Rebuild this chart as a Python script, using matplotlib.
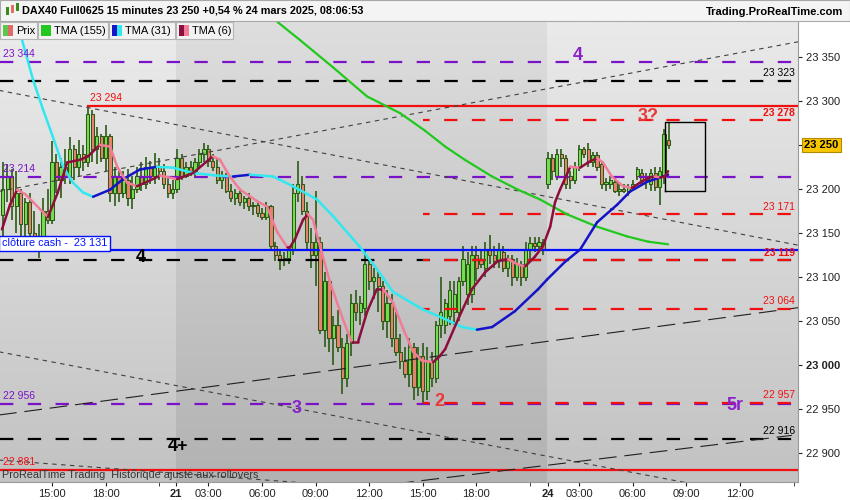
import numpy as np
import matplotlib.pyplot as plt
from matplotlib.collections import LineCollection
from matplotlib.patches import Rectangle

plt.rcParams['font.family'] = ['Liberation Sans', 'DejaVu Sans']

# 15 min bars, index 0 = 20/03 12:15 (night hours and week-end removed)
opens = [23170, 23200, 23215, 23180, 23195, 23160, 23185, 23150, 23140, 23145,
         23175, 23165, 23230, 23210, 23225, 23215, 23245, 23225, 23240, 23230,
         23285, 23245, 23260, 23235, 23260, 23195, 23215, 23195, 23210, 23190,
         23200, 23215, 23205, 23225, 23215, 23225, 23220, 23205, 23195,
         23200, 23235, 23215, 23225, 23220, 23230, 23240, 23245, 23232, 23225,
         23210, 23215, 23198, 23190, 23195, 23185, 23190, 23180, 23182, 23172,
         23168, 23180, 23135, 23125, 23120, 23122, 23130, 23195, 23205, 23175,
         23140, 23125, 23140, 23040, 23095, 23030, 23045, 23020, 22985, 23025,
         23070, 23060, 23065, 23115, 23095, 23100, 23090, 23050, 23070, 23030,
         23015, 23005, 22990, 23020, 22975, 23010, 22970, 23005, 22985, 23045,
         23045, 23055, 23060, 23060, 23095, 23080, 23080, 23125, 23120, 23110,
         23130, 23125, 23118, 23128, 23110, 23120, 23100, 23115, 23100, 23130,
         23138, 23135, 23140,
         23205, 23235, 23215, 23240, 23235, 23215, 23210, 23225, 23245, 23245,
         23230, 23238, 23228, 23205, 23205, 23208, 23198, 23200, 23198, 23202,
         23215, 23218, 23210, 23205, 23218, 23202, 23215, 23256]
highs = [23230, 23228, 23222, 23220, 23200, 23190, 23195, 23175, 23160, 23190,
         23200, 23254, 23240, 23235, 23245, 23259, 23250, 23255, 23250, 23294,
         23290, 23270, 23262, 23273, 23262, 23225, 23220, 23220, 23222, 23215,
         23225, 23230, 23236, 23232, 23241, 23235, 23228, 23212, 23210,
         23245, 23240, 23230, 23232, 23235, 23245, 23252, 23250, 23240, 23235,
         23220, 23218, 23205, 23200, 23198, 23192, 23195, 23185, 23185, 23178,
         23185, 23182, 23140, 23132, 23128, 23135, 23205, 23232, 23215, 23185,
         23155, 23197, 23145, 23105, 23100, 23055, 23062, 23030, 23035, 23080,
         23085, 23078, 23132, 23120, 23110, 23108, 23095, 23085, 23080, 23060,
         23035, 23020, 23030, 23025, 23020, 23025, 23020, 23015, 23050, 23100,
         23075, 23095, 23095, 23100, 23135, 23128, 23135, 23135, 23130, 23140,
         23148, 23135, 23138, 23135, 23125, 23125, 23122, 23118, 23140, 23145,
         23145, 23145, 23143,
         23242, 23240, 23245, 23245, 23238, 23220, 23230, 23250, 23248, 23252,
         23242, 23242, 23232, 23212, 23215, 23212, 23205, 23205, 23205, 23210,
         23225, 23222, 23218, 23222, 23225, 23225, 23268, 23276]
lows = [23140, 23185, 23165, 23150, 23145, 23140, 23135, 23135, 23122, 23130,
        23160, 23160, 23195, 23190, 23205, 23205, 23210, 23215, 23220, 23225,
        23230, 23228, 23230, 23220, 23185, 23180, 23185, 23190, 23180, 23177,
        23195, 23198, 23200, 23205, 23205, 23210, 23200, 23190, 23188,
        23195, 23210, 23212, 23215, 23212, 23222, 23230, 23225, 23220, 23205,
        23200, 23195, 23185, 23182, 23180, 23177, 23175, 23170, 23168, 23165,
        23165, 23130, 23118, 23108, 23112, 23115, 23125, 23185, 23170, 23130,
        23110, 23090, 23035, 23020, 23015, 23000, 23015, 22967, 22975, 23010,
        23050, 23045, 23055, 23085, 23075, 23060, 23040, 23030, 23020, 23010,
        22995, 22985, 22975, 22960, 22965, 22957, 22960, 22975, 22980, 23030,
        23035, 23045, 23045, 23050, 23090, 23068, 23070, 23095, 23110, 23100,
        23115, 23110, 23110, 23105, 23100, 23090, 23095, 23090, 23095, 23120,
        23128, 23128, 23125,
        23200, 23210, 23210, 23225, 23200, 23200, 23205, 23220, 23235, 23225,
        23225, 23220, 23200, 23198, 23200, 23195, 23192, 23195, 23192, 23198,
        23210, 23205, 23200, 23198, 23198, 23182, 23205, 23245]
closes = [23200, 23215, 23180, 23195, 23160, 23185, 23150, 23140, 23145, 23175,
          23165, 23230, 23210, 23225, 23215, 23245, 23225, 23240, 23230, 23285,
          23245, 23260, 23235, 23260, 23195, 23215, 23195, 23210, 23190, 23200,
          23215, 23205, 23225, 23215, 23225, 23220, 23205, 23195, 23200,
          23235, 23215, 23225, 23220, 23230, 23240, 23245, 23232, 23225, 23210,
          23215, 23198, 23190, 23195, 23185, 23190, 23180, 23182, 23172, 23168,
          23180, 23135, 23125, 23120, 23122, 23130, 23195, 23205, 23175, 23140,
          23125, 23140, 23040, 23095, 23030, 23045, 23020, 22985, 23025, 23070,
          23060, 23070, 23115, 23095, 23100, 23090, 23050, 23070, 23030, 23015,
          23005, 22990, 23020, 22975, 23010, 22970, 23005, 22985, 23045, 23060,
          23070, 23085, 23080, 23095, 23120, 23115, 23125, 23110, 23115, 23130,
          23125, 23118, 23130, 23110, 23120, 23100, 23115, 23100, 23130, 23138,
          23135, 23140, 23132,
          23235, 23220, 23240, 23235, 23205, 23210, 23225, 23245, 23240, 23230,
          23238, 23225, 23205, 23208, 23210, 23198, 23200, 23198, 23202, 23205,
          23222, 23210, 23215, 23218, 23202, 23220, 23262, 23250]

# moving averages (bar index, price)
tma155_x = [59.8, 61.6, 66.5, 73.9, 81.5, 88.9, 94.5, 99.0, 103.4, 109.5, 115.3,
            120.2, 126.3, 133.0, 139.7, 144.4, 148.9]
tma155_y = [23401, 23389, 23369, 23338, 23305, 23286, 23266, 23248, 23233, 23214,
            23199, 23188, 23171, 23157, 23146, 23140, 23137]
tma31_x = [3.4, 4.3, 6.75, 9.0, 11.2, 13.5, 15.7, 17.9, 20.2, 24.0, 26.9, 30.7,
           34.5, 38.1, 42.6, 47.9, 51.5, 55.3, 60.5, 64.9, 70.3, 73.9, 79.9, 83.7,
           87.3, 94.0, 99.0, 102.8, 106.1, 109.5, 114.6, 119.8, 121.8, 125.8, 129.2,
           133.0, 137.5, 140.4, 144.2, 147.8, 148.9]
tma31_y = [23414, 23369, 23324, 23290, 23259, 23225, 23207, 23196, 23191, 23199,
           23211, 23222, 23225, 23224, 23218, 23215, 23214, 23216, 23214, 23203,
           23188, 23169, 23134, 23109, 23083, 23063, 23052, 23043, 23040, 23043,
           23061, 23086, 23097, 23117, 23131, 23162, 23182, 23197, 23208, 23214,
           23216]
tma6_x = [-0.2, 1.6, 3.2, 5.0, 6.75, 8.3, 10.1, 12.3, 14.4, 17.3, 19.1, 21.7, 24.0,
          25.6, 27.8, 30.0, 32.3, 35.2, 39.0, 42.6, 47.0, 48.6, 50.8, 53.1, 56.9,
          59.1, 61.4, 63.6, 64.3, 65.4, 67.2, 68.3, 69.4, 71.0, 73.2, 76.1, 78.1,
          79.5, 81.5, 83.7, 85.1, 87.3, 89.6, 91.8, 93.8, 96.3, 97.8, 99.0, 101.9,
          105.0, 107.9, 110.8, 113.1, 115.3, 116.9, 119.1, 120.9, 122.5, 123.6,
          124.7, 127.0, 129.2, 131.0, 133.0, 134.3, 136.3, 138.8, 140.8, 142.6,
          144.8, 145.9, 147.1, 148.2, 148.9]
tma6_y = [23154, 23182, 23199, 23194, 23185, 23177, 23168, 23196, 23230, 23233,
          23237, 23250, 23248, 23225, 23207, 23203, 23208, 23215, 23211, 23218,
          23237, 23233, 23214, 23199, 23186, 23180, 23151, 23134, 23134, 23143,
          23165, 23171, 23165, 23135, 23094, 23052, 23026, 23026, 23060, 23086,
          23086, 23071, 23041, 23015, 23005, 23003, 23010, 23018, 23052, 23086,
          23105, 23118, 23120, 23114, 23112, 23123, 23135, 23157, 23185, 23199,
          23225, 23224, 23230, 23235, 23230, 23214, 23203, 23201, 23207, 23213,
          23214, 23213, 23214, 23220]

# horizontal levels
purple_levels = [23344, 23214, 22956]
black_levels = [23323, 23119, 22916]
red_dash_levels = [23278, 23171, 23119, 23064, 22957]
red_dash_start = 94
high_level, high_start = 23294, 19
low_level = 22881
cash_close = 23131

# trend lines ((x0, p0), (x1, p1))
short_dash_lines = [((-1, 23312), (178, 23136)), ((-1, 23197), (178, 23367)),
                    ((-1, 23015), (178, 22842)), ((-1, 22892), (70, 22865))]
long_dash_lines = [((-1, 22943), (178, 23065)), ((88, 22865), (176.6, 22920))]

box_x, box_y = (148.2, 157.2), (23198, 23276)

ytick_vals = [22900, 22950, 23000, 23050, 23100, 23150, 23200, 23250, 23300, 23350]
xtick_pos = [11, 23, 38.75, 46, 58, 70, 82, 94, 106, 122, 129, 141, 153, 165]
xtick_lab = ['15:00', '18:00', '21', '03:00', '06:00', '09:00', '12:00', '15:00',
             '18:00', '24', '03:00', '06:00', '09:00', '12:00']
xminor_pos = [35, 118, 177]
day_bounds = [-1, 38.75, 121.9, 178]

last_price = 23250
XMIN, XMAX = -0.64, 177.97
YMIN, YMAX = 22867, 23389.5

DKG = '#2b5a14'
PURPLE = '#7a12c8'
RED = '#f01010'

fig = plt.figure(figsize=(8.5, 5), dpi=100, facecolor='white')
ax = fig.add_axes([0, 18 / 500, 798 / 850, 460 / 500])

# background gradients per session
shades = [('#ececec', '#c2c2c2'), ('#dedede', '#b2b2b2'), ('#eaeaea', '#c2c2c2')]
for i, (top, bot) in enumerate(shades):
    t = np.array(plt.matplotlib.colors.to_rgb(top))
    b = np.array(plt.matplotlib.colors.to_rgb(bot))
    grad = np.linspace(t, b, 200)[:, None, :]
    ax.imshow(grad, extent=[day_bounds[i], day_bounds[i + 1], YMIN, YMAX],
              aspect='auto', zorder=0, interpolation='bilinear')
ax.set_xlim(XMIN, XMAX)
ax.set_ylim(YMIN, YMAX)

# candles
xs = np.arange(len(closes))
o = np.array(opens); c = np.array(closes)
ax.vlines(xs, lows, highs, color=DKG, lw=1.2, zorder=2)
body_bot = np.minimum(o, c)
body_h = np.maximum(np.abs(c - o), 1.2)
cols = ['#74de52' if cc >= oo else '#ea826e' for oo, cc in zip(o, c)]
ax.bar(xs, body_h, bottom=body_bot, width=0.72, color=cols, edgecolor=DKG,
       linewidth=0.75, zorder=3)

# horizontal lines
dash = (0, (6, 6.5))
for lv in purple_levels:
    ax.axhline(lv, color=PURPLE, lw=1.6, ls=dash, zorder=4)
for lv in black_levels:
    ax.axhline(lv, color='black', lw=1.6, ls=dash, zorder=4)
for lv in red_dash_levels:
    ax.plot([red_dash_start, XMAX], [lv, lv], color=RED, lw=1.6, ls=(3, (6, 6.5)), zorder=4.2)
ax.plot([high_start, XMAX], [high_level, high_level], color=RED, lw=1.6, zorder=4)
ax.axhline(low_level, color=RED, lw=1.6, zorder=4)
ax.axhline(cash_close, color='#0010ff', lw=1.6, zorder=4.5)

for (x0, p0), (x1, p1) in short_dash_lines:
    ax.plot([x0, x1], [p0, p1], color='#404040', lw=0.8, ls=(0, (4, 4)), zorder=4)
for (x0, p0), (x1, p1) in long_dash_lines:
    ax.plot([x0, x1], [p0, p1], color='#202020', lw=0.8, ls=(0, (16, 7)), zorder=4)

ax.plot([box_x[0], box_x[1], box_x[1], box_x[0], box_x[0]],
        [box_y[0], box_y[0], box_y[1], box_y[1], box_y[0]], color='black', lw=1.0, zorder=5)


def slope_line(xv, yv, up, down, lw, z):
    pts = np.column_stack([xv, yv])
    segs = np.stack([pts[:-1], pts[1:]], axis=1)
    sc = [up if b >= a else down for a, b in zip(yv[:-1], yv[1:])]
    ax.add_collection(LineCollection(segs, colors=sc, linewidths=lw,
                                     capstyle='round', joinstyle='round', zorder=z))


slope_line(tma155_x, tma155_y, '#22c81e', '#22c81e', 1.6, 6)
slope_line(tma31_x, tma31_y, '#1414c8', '#30e8f0', 1.8, 6)
slope_line(tma6_x, tma6_y, '#8c0e3c', '#f27c98', 1.8, 6.5)

# level labels
ya = ax.get_yaxis_transform()
lab = dict(fontsize=7.5, zorder=8)
ax.text(0.004, 23344 + 3, '23 344', color=PURPLE, transform=ya, va='bottom', **lab)
ax.text(0.004, 23214 + 3, '23 214', color=PURPLE, transform=ya, va='bottom', **lab)
ax.text(0.004, 22956 + 3, '22 956', color=PURPLE, transform=ya, va='bottom', **lab)
ax.text(0.004, 22881 + 3, '22 881', color=RED, transform=ya, va='bottom', **lab)
ax.text(high_start + 0.5, high_level + 3, '23 294', color=RED, va='bottom', **lab)
ax.text(0.996, 23323 + 3, '23 323', color='black', transform=ya, va='bottom', ha='right', **lab)
ax.text(0.996, 23278 + 3, '23 278', color=RED, transform=ya, va='bottom', ha='right',
        fontweight='bold', **lab)
ax.text(0.996, 23171 + 3, '23 171', color=RED, transform=ya, va='bottom', ha='right', **lab)
ax.text(0.996, 23119 + 3, '23 119', color=RED, transform=ya, va='bottom', ha='right',
        fontweight='bold', **lab)
ax.text(0.996, 23064 + 3, '23 064', color=RED, transform=ya, va='bottom', ha='right', **lab)
ax.text(0.996, 22957 + 3, '22 957', color=RED, transform=ya, va='bottom', ha='right', **lab)
ax.text(0.996, 22916 + 3, '22 916', color='black', transform=ya, va='bottom', ha='right', **lab)

ax.text(0.002, cash_close + 1.5, 'clôture cash -  23 131', color='#0010ff', transform=ya,
        va='bottom', fontsize=7.8, zorder=9,
        bbox=dict(boxstyle='square,pad=0.25', fc='white', ec='#0010ff', lw=1))

big = dict(fontsize=13, fontweight='bold', ha='center', va='center', zorder=9)
ax.text(30.9, 23122, '4', color='black', **big)
ax.text(39.2, 22907, '4+', color='black', **big)
ax.text(65.8, 22950, '3', color='#8a22cc', **big)
ax.text(97.8, 22958, '2', color='#e83838', **big)
ax.text(163.9, 22954, '5r', color='#8a22cc', **big)
ax.text(128.7, 23351, '4', color='#8a22cc', **big)
ax.text(144.4, 23282, '3?', color='#e83838', **big)

ax.text(0.003, 0.004, 'ProRealTime Trading  Historique ajusté aux rollovers',
        transform=ax.transAxes, fontsize=7.8, color='#333333', va='bottom', zorder=9)

# axes
for s in ['top', 'left']:
    ax.spines[s].set_visible(False)
ax.spines['right'].set_color('#9a9a9a')
ax.spines['bottom'].set_color('#9a9a9a')
ax.yaxis.tick_right()
ax.set_yticks(ytick_vals)
ax.set_yticklabels(['' if v == last_price else f'{v:,}'.replace(',', ' ')
                    for v in ytick_vals])
ax.tick_params(axis='y', length=3, pad=3, labelsize=8, colors='#222222')
for t in ax.get_yticklabels():
    if t.get_text() == '23 000':
        t.set_fontweight('bold')
ax.set_xticks(xtick_pos)
ax.set_xticklabels(xtick_lab)
ax.set_xticks(xminor_pos, minor=True)
ax.tick_params(axis='x', which='both', length=3, pad=2, labelsize=8, colors='#222222')
for t in ax.get_xticklabels():
    if t.get_text() in ('21', '24'):
        t.set_fontweight('bold')

ax.text(1.008, last_price, f'{last_price:,}'.replace(',', ' '), transform=ya,
        fontsize=8, fontweight='bold', va='center', ha='left', clip_on=False, zorder=10,
        bbox=dict(boxstyle='square,pad=0.2', fc='#f7c600', ec='#b08a00', lw=0.8))

# header bar and legend boxes (figure pixels)
W, H = 850, 500


def frect(x, y, w, h, **kw):
    fig.add_artist(Rectangle((x / W, 1 - (y + h) / H), w / W, h / H,
                             transform=fig.transFigure, **kw))


frect(0, 0, 850, 21, fc='#f4f4f4', ec='#a8a8a8', lw=0.8, zorder=20)
for i, (cx, hc) in enumerate([(6, '#3a8a20'), (11, '#e07060'), (16, '#3a8a20')]):
    frect(cx, 7 - i * 2, 2.5, 8, fc=hc, ec='none', zorder=21)
fig.text(22 / W, 1 - 10.5 / H, 'DAX40 Full0625 15 minutes 23 250 +0,54 % 24 mars 2025, 08:06:53',
         fontsize=7.8, fontweight='bold', va='center', zorder=22)
fig.text(843 / W, 1 - 12 / H, 'Trading.ProRealTime.com', fontsize=8, fontweight='bold',
         ha='right', va='center', zorder=22)

legend_items = [('Prix', 0, 37, '#5cc84a', '#e06a6a'),
                ('TMA (155)', 38, 70, '#22c81e', '#22c81e'),
                ('TMA (31)', 109, 66, '#1414c8', '#30e8f0'),
                ('TMA (6)', 176, 57, '#8c0e3c', '#f27c98')]
for name, lx, lw_, c1, c2 in legend_items:
    frect(lx, 22, lw_, 17, fc='#f2f2f2', ec='#b4b4b4', lw=0.8, zorder=20)
    frect(lx + 3, 25, 5, 11, fc=c1, ec='none', zorder=21)
    frect(lx + 8, 25, 5, 11, fc=c2, ec='none', zorder=21)
    fig.text((lx + 16) / W, 1 - 30.5 / H, name, fontsize=8, va='center', zorder=22)

fig.savefig('out.png', dpi=100, facecolor='white')
